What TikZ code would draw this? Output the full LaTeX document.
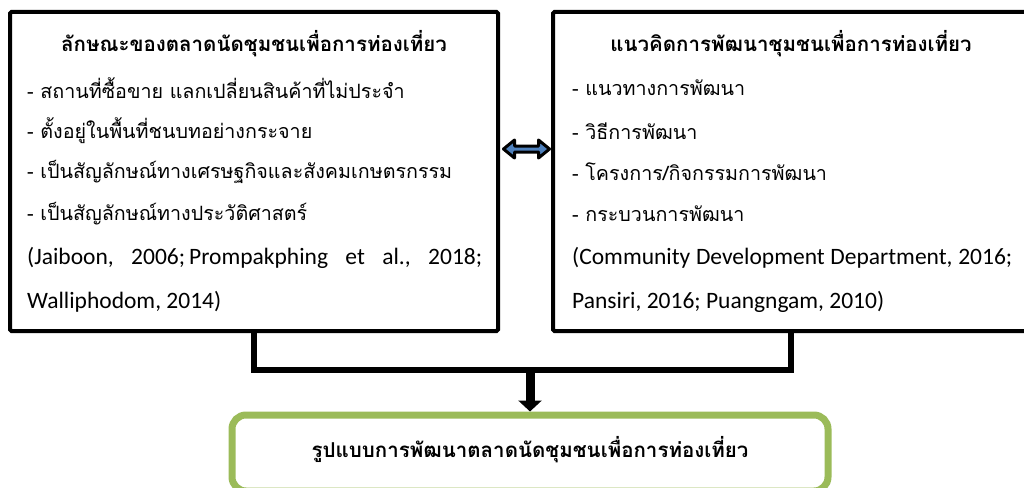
\documentclass[tikz,border=0pt]{standalone}
\usepackage{fontspec}
\setmainfont{Loma}[Script=Thai]
\newfontfamily\latinfont{Carlito}
\usetikzlibrary{arrows.meta}
\definecolor{boxgreen}{HTML}{9BBB59}
\definecolor{arrblue}{HTML}{4F81BD}
\tikzset{
  mainbox/.style={draw=black, line width=4pt, rounded corners=1.5pt, inner sep=0pt},
  greenbox/.style={draw=boxgreen, line width=7pt, rounded corners=14pt, inner sep=0pt},
  txt/.style={anchor=west, inner sep=0pt, font=\fontsize{19.7}{22}\selectfont},
  lat/.style={anchor=west, inner sep=0pt, font=\latinfont\fontsize{23.5}{25}\selectfont},
  ttl/.style={anchor=center, inner sep=0pt, font=\fontsize{20.5}{23}\selectfont\bfseries},
  conn/.style={draw=black, line width=6pt},
  downarrow/.style={draw=black, line width=9pt, -{Triangle[width=23pt,length=11pt]}},
}
\begin{document}
\begin{tikzpicture}[x=1pt,y=-1pt]
\useasboundingbox (0,0) rectangle (1024,487);
\begin{scope}
\clip (0,0) rectangle (1024,487);
% boxes
\node[mainbox, minimum width=488pt, minimum height=319pt] (L) at (254,171.5) {};
\node[mainbox, minimum width=476pt, minimum height=319pt] (R) at (791,171.5) {};
\node[greenbox, minimum width=596pt, minimum height=76pt] (G) at (530,453) {};

% left text
\node[ttl] (Lt) at (254,44) {ลักษณะของตลาดนัดชุมชนเพื่อการท่องเที่ยว};
\node[txt] (L1) at (27,88) {- สถานที่ซื้อขาย แลกเปลี่ยนสินค้าที่ไม่ประจำ};
\node[txt] (L2) at (27,131) {- ตั้งอยู่ในพื้นที่ชนบทอย่างกระจาย};
\node[txt] (L3) at (27,172) {- เป็นสัญลักษณ์ทางเศรษฐกิจและสังคมเกษตรกรรม};
\node[txt] (L4) at (27,214) {- เป็นสัญลักษณ์ทางประวัติศาสตร์};
\node[lat] (L5) at (27,258) {\makebox[455pt][s]{(Jaiboon,\hfill 2006;\hspace{4pt}Prompakphing\hfill et\hfill al.,\hfill 2018;}};
\node[lat] (L6) at (27,302) {Walliphodom, 2014)};

% right text
\node[ttl] (Rt) at (791,44) {แนวคิดการพัฒนาชุมชนเพื่อการท่องเที่ยว};
\node[txt] (R1) at (572,88) {- แนวทางการพัฒนา};
\node[txt] (R2) at (572,131) {- วิธีการพัฒนา};
\node[txt] (R3) at (572,172) {- โครงการ/กิจกรรมการพัฒนา};
\node[txt] (R4) at (572,214) {- กระบวนการพัฒนา};
\node[lat] (R5) at (572,258) {\makebox[440pt][s]{(Community\hfill Development\hfill Department,\hfill 2016;}};
\node[lat] (R6) at (572,302) {Pansiri, 2016; Puangngam, 2010)};

% bottom text
\node[ttl] (Gt) at (530,450) {รูปแบบการพัฒนาตลาดนัดชุมชนเพื่อการท่องเที่ยว};

% connectors
\coordinate (J) at (530,370);
\draw[conn] (L.south) |- (J) -| (R.south);
\draw[downarrow] (J) -- (G.north);

% double arrow
\coordinate (DA) at (526.5,149);
\filldraw[fill=arrblue, draw=black, line width=3pt, line join=round]
  (DA) ++(-23,0) -- ++(11,-9) -- ++(0,6) -- ++(24,0) -- ++(0,-6) -- ++(11,9)
  -- ++(-11,9) -- ++(0,-6) -- ++(-24,0) -- ++(0,6) -- cycle;
\end{scope}
\end{tikzpicture}
\end{document}
